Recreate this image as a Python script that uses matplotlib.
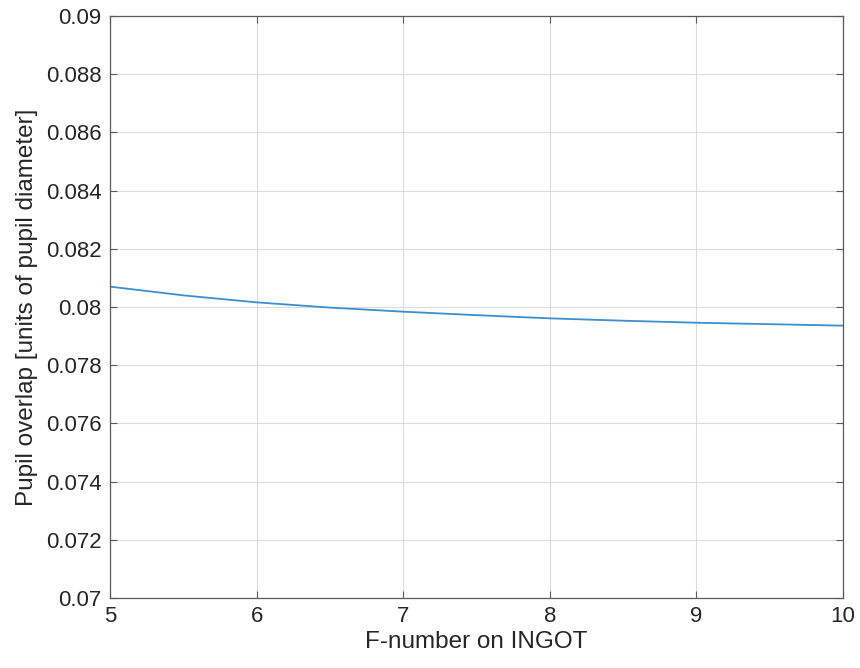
import matplotlib
matplotlib.use("Agg")
import matplotlib.pyplot as plt
import numpy as np

f_number = [5.0, 5.5, 6.0, 6.5, 7.0, 7.5, 8.0, 8.5, 9.0, 9.5, 10.0]
overlap = [0.08070, 0.08040, 0.08016, 0.07998, 0.07984, 0.07972,
           0.07961, 0.07953, 0.07946, 0.07941, 0.07936]
x_ticks = [5, 6, 7, 8, 9, 10]
y_ticks = [0.07, 0.072, 0.074, 0.076, 0.078, 0.08, 0.082, 0.084, 0.086, 0.088, 0.09]
y_tick_labels = ["0.07", "0.072", "0.074", "0.076", "0.078", "0.08",
                 "0.082", "0.084", "0.086", "0.088", "0.09"]

plt.rcParams['font.family'] = ['Liberation Sans', 'DejaVu Sans']
fig = plt.figure(figsize=(8.6, 6.68), dpi=100)
ax = fig.add_axes([0.128, 0.1048, 0.852, 0.8712])

ax.plot(f_number, overlap, color='#3b8fcf', linewidth=1.3)
ax.set_xlim(5, 10)
ax.set_ylim(0.07, 0.09)
ax.set_xticks(x_ticks)
ax.set_yticks(y_ticks)
ax.set_yticklabels(y_tick_labels)
ax.grid(True, color='#dcdcdc', linewidth=0.8)
ax.set_axisbelow(True)
dark = '#262626'
for s in ax.spines.values():
    s.set_color('#5a5a5a')
    s.set_linewidth(0.9)
ax.tick_params(direction='in', length=5, width=0.8, colors='#5a5a5a',
               labelcolor=dark, labelsize=16, top=True, right=True,
               labeltop=False, labelright=False, pad=6)
ax.set_xlabel("F-number on INGOT", fontsize=17.5, color=dark, labelpad=3)
ax.set_ylabel("Pupil overlap [units of pupil diameter]", fontsize=17.5, color=dark, labelpad=6)

fig.savefig("out.png", dpi=100)
